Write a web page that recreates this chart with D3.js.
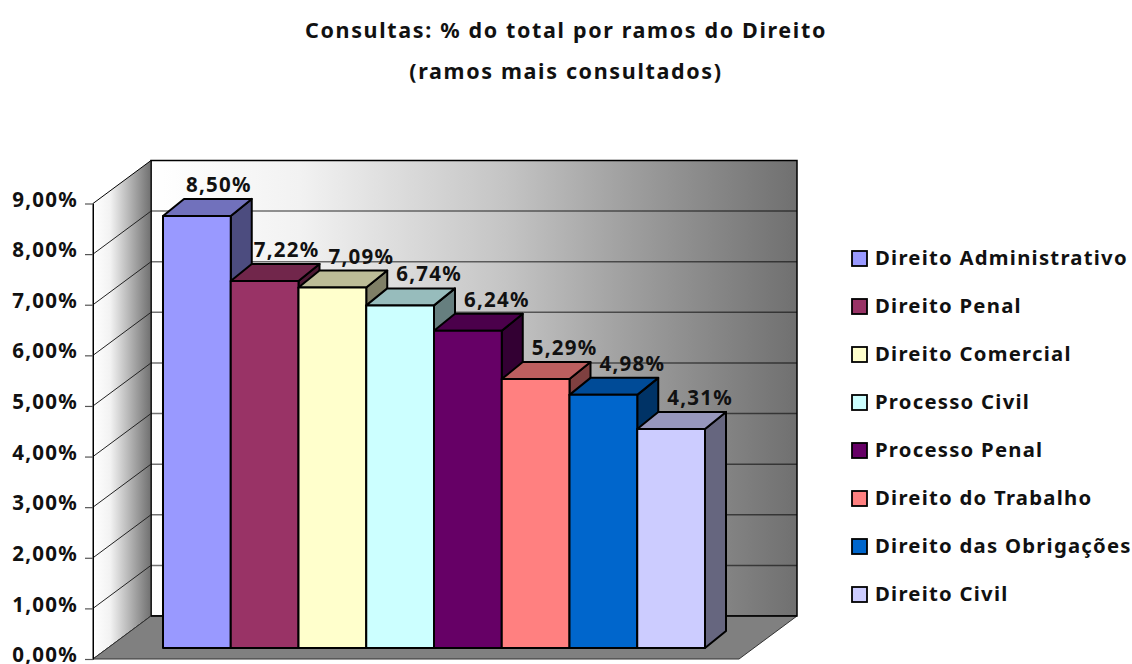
<!DOCTYPE html>
<html>
<head>
<meta charset="utf-8">
<script src="https://d3js.org/d3.v7.min.js"></script>
<style>
  html, body { margin: 0; padding: 0; background: #fff; }
  svg { display: block; }
  text { font-family: "Noto Sans", sans-serif; font-weight: bold; fill: #111; letter-spacing: 1.25px; }
</style>
</head>
<body>
<svg id="chart" width="1132" height="664"></svg>
<script>
var titleLines = [ "Consultas: % do total por ramos do Direito", "(ramos mais consultados)" ];
var categories = [ "Direito Administrativo", "Direito Penal", "Direito Comercial", "Processo Civil",
                   "Processo Penal", "Direito do Trabalho", "Direito das Obrigações", "Direito Civil" ];
var values = [ 8.50, 7.22, 7.09, 6.74, 6.24, 5.29, 4.98, 4.31 ];
var colors = [ "#9999ff", "#993366", "#ffffcc", "#ccffff", "#660066", "#ff8080", "#0066cc", "#ccccff" ];
var ticks = [ 0, 1, 2, 3, 4, 5, 6, 7, 8, 9 ];

var fmt = v => v.toFixed(2).replace( ".", "," ) + "%";
var svg = d3.select( "#chart" );

// plot geometry: front plane of the box, and how far back the wall sits
var x0 = 93, y0 = 659, dx = 58, dy = -43, plotW = 646;
var barBase = 648, barDx = 21, barDy = -17;
var sy = d3.scaleLinear().domain( [0, 9] ).range( [0, -455.5] );
var sb = d3.scaleLinear().domain( [0, 9] ).range( [0, -457.5] );
var sx = d3.scaleBand().domain( categories ).range( [163, 705] );
var path = pts => "M" + pts.map( p => p.join(",") ).join("L") + "Z";

var defs = svg.append( "defs" );
function grad( id, stops ) {
    var g = defs.append( "linearGradient" ).attr( "id", id );
    stops.forEach( s => g.append( "stop" ).attr( "offset", s[0] ).attr( "stop-color", s[1] ) );
}
grad( "wallBack", [ [0, "#ffffff"], [0.23, "#f2f2f2"], [0.55, "#c4c4c4"], [0.77, "#999999"], [1, "#707070"] ] );
grad( "wallSide", [ [0, "#ffffff"], [0.3, "#f2f2f2"], [1, "#707070"] ] );

// walls and floor
var yTop = y0 + sy(9);
svg.append( "rect" ).attr( "x", x0+dx ).attr( "y", yTop+dy ).attr( "width", plotW ).attr( "height", -sy(9) )
    .attr( "fill", "url(#wallBack)" ).attr( "stroke", "#000" ).attr( "stroke-width", 1.5 );
svg.append( "path" ).attr( "d", path( [ [x0,y0], [x0,yTop], [x0+dx,yTop+dy], [x0+dx,y0+dy] ] ) )
    .attr( "fill", "url(#wallSide)" ).attr( "stroke", "#000" ).attr( "stroke-width", 1 );
svg.append( "path" ).attr( "d", path( [ [x0,y0], [x0+dx,y0+dy], [x0+dx+plotW,y0+dy], [x0+plotW,y0] ] ) )
    .attr( "fill", "#808080" ).attr( "stroke", "#333" ).attr( "stroke-width", 1 );
svg.append( "line" ).attr( "x1", x0+dx ).attr( "x2", x0+dx+plotW ).attr( "y1", y0+dy ).attr( "y2", y0+dy )
    .attr( "stroke", "#000" ).attr( "stroke-width", 1.5 );

// gridlines
var grid = svg.append( "g" );
var inner = ticks.slice( 1, -1 );
grid.selectAll( "line.back" ).data( inner ).enter().append( "line" ).attr( "class", "back" )
    .attr( "x1", x0+dx ).attr( "x2", x0+dx+plotW )
    .attr( "y1", d => y0+dy+sy(d) ).attr( "y2", d => y0+dy+sy(d) )
    .attr( "stroke", "#000" ).attr( "stroke-opacity", 0.55 ).attr( "stroke-width", 1.5 );
grid.selectAll( "line.side" ).data( inner ).enter().append( "line" ).attr( "class", "side" )
    .attr( "x1", x0 ).attr( "x2", x0+dx )
    .attr( "y1", d => y0+sy(d) ).attr( "y2", d => y0+dy+sy(d) )
    .attr( "stroke", "#222" ).attr( "stroke-width", 1 );

// y axis
var axisScale = d3.scaleLinear().domain( [0, 9] ).range( [y0, yTop] );
var axis = svg.append( "g" ).attr( "transform", "translate(" + x0 + ",0)" )
    .call( d3.axisLeft( axisScale ).tickValues( ticks ).tickFormat( fmt ).tickSize( 8 ).tickSizeOuter( 0 ) );
axis.attr( "font-size", null ).attr( "font-family", null );
axis.select( ".domain" ).attr( "stroke", "#000" );
axis.selectAll( ".tick line" ).attr( "stroke", "#555" ).attr( "stroke-width", 1.2 );
axis.selectAll( "text" ).style( "font-size", "20.5px" ).attr( "x", -15 ).attr( "y", -3.5 ).attr( "dy", "0.3em" );

// bars, left to right so each covers the side of the previous one
var bars = svg.selectAll( "g.bar" ).data( categories ).enter().append( "g" ).attr( "class", "bar" );
var barStroke = g => g.attr( "stroke", "#000" ).attr( "stroke-width", 2 ).attr( "stroke-linejoin", "round" );
bars.append( "path" ).call( barStroke )
    .attr( "d", (d,i) => { var a = sx(d)+sx.bandwidth(), t = barBase+sb(values[i]);
        return path( [ [a,barBase], [a,t], [a+barDx,t+barDy], [a+barDx,barBase+barDy] ] ); } )
    .attr( "fill", (d,i) => d3.rgb( colors[i] ).darker( 1.95 ) );
bars.append( "path" ).call( barStroke )
    .attr( "d", (d,i) => { var a = sx(d), b = a+sx.bandwidth(), t = barBase+sb(values[i]);
        return path( [ [a,t], [b,t], [b+barDx,t+barDy], [a+barDx,t+barDy] ] ); } )
    .attr( "fill", (d,i) => d3.rgb( colors[i] ).darker( 0.85 ) );
bars.append( "rect" ).call( barStroke )
    .attr( "x", d => sx(d) ).attr( "width", sx.bandwidth() )
    .attr( "y", (d,i) => barBase+sb(values[i]) ).attr( "height", (d,i) => -sb(values[i]) )
    .attr( "fill", (d,i) => colors[i] );

// value labels (the first two sit a little further left in the original)
svg.selectAll( "text.val" ).data( categories ).enter().append( "text" ).attr( "class", "val" )
    .attr( "x", (d,i) => sx(d)+sx.bandwidth()/2+( i<2 ? 22 : 29 ) )
    .attr( "y", (d,i) => barBase+sb(values[i])+barDy-7 )
    .attr( "text-anchor", "middle" ).style( "font-size", "20.5px" )
    .text( (d,i) => fmt( values[i] ) );

// title
svg.selectAll( "text.title" ).data( titleLines ).enter().append( "text" ).attr( "class", "title" )
    .attr( "x", 566 ).attr( "y", (d,i) => 38+i*41 )
    .attr( "text-anchor", "middle" ).style( "font-size", "21.5px" ).style( "letter-spacing", "1.65px" )
    .text( d => d );

// legend
var sl = d3.scaleBand().domain( categories ).range( [234, 618] );
var leg = svg.selectAll( "g.leg" ).data( categories ).enter().append( "g" ).attr( "class", "leg" )
    .attr( "transform", d => "translate(852," + (sl(d)+sl.bandwidth()/2) + ")" );
leg.append( "rect" ).attr( "x", 0 ).attr( "y", -7 ).attr( "width", 15 ).attr( "height", 15 )
    .attr( "fill", (d,i) => colors[i] ).attr( "stroke", "#000" ).attr( "stroke-width", 1.8 );
leg.append( "text" ).attr( "x", 23 ).attr( "y", 7 ).style( "font-size", "20.3px" ).text( d => d );
</script>
</body>
</html>
